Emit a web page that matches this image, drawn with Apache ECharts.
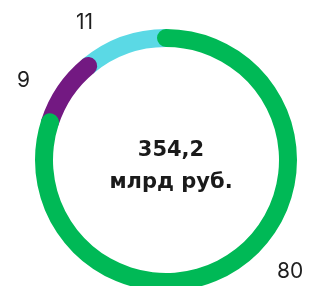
<!DOCTYPE html>
<html>
<head>
<meta charset="utf-8">
<script src="https://cdn.jsdelivr.net/npm/echarts@6/dist/echarts.min.js"></script>
<style>
  html, body { margin: 0; padding: 0; background: #fff; }
  #chart { width: 319px; height: 286px; }
</style>
</head>
<body>
<div id="chart"></div>
<script>
// доли, %
const names = ["green", "purple", "cyan"];
const values = [80, 9, 11];
const colors = ["#00b956", "#731982", "#5bd9e5"];
const totalText = ["354,2", "млрд руб."];

const mChart = echarts.init(document.getElementById("chart"));

const labelStyle = { fontSize: 21, fontFamily: "Inter", fontWeight: "normal", fill: "#1e1e1e" };

const options = {
  animation: false,
  polar: {
    center: [166, 160],
    radius: [113, 131],
  },
  angleAxis: {
    type: "value",
    min: 0,
    max: 100,
    startAngle: 90,
    clockwise: true,
    show: false,
  },
  radiusAxis: {
    type: "category",
    data: ["total"],
    show: false,
  },
  title: {
    text: totalText.join("\n"),
    left: 166,
    top: 130,
    textAlign: "center",
    textStyle: {
      fontFamily: "DejaVu Sans",
      fontWeight: "bold",
      fontSize: 21,
      lineHeight: 32,
      color: "#1a1a1a",
    },
  },
  // подписи долей
  graphic: [
    { type: "text", left: 76, top: 12, style: Object.assign({ text: String(values[2]) }, labelStyle) },
    { type: "text", left: 17, top: 70, style: Object.assign({ text: String(values[1]) }, labelStyle) },
    { type: "text", left: 277, top: 261, style: Object.assign({ text: String(values[0]) }, labelStyle) },
  ],
  // зелёный сверху, потом фиолетовый, голубой снизу
  series: names.map((name, i) => ({
    type: "bar",
    name: name,
    coordinateSystem: "polar",
    stack: "total",
    data: [values[i]],
    roundCap: true,
    barWidth: 18,
    z: 4 - i,
    itemStyle: { color: colors[i] },
  })),
};

mChart.setOption(options);
</script>
</body>
</html>
